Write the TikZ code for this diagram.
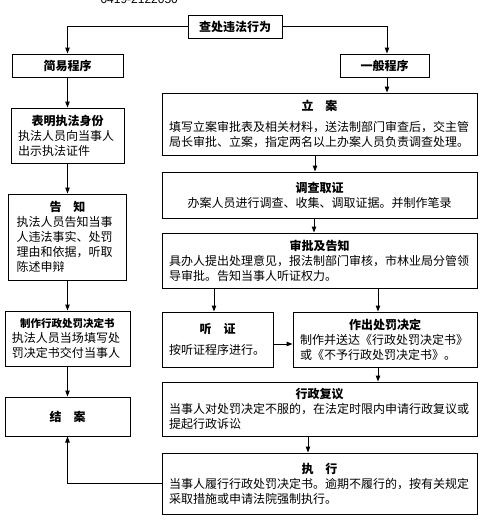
\documentclass[tikz,border=0pt]{standalone}
\usepackage{fontspec}
\setmainfont{Noto Sans CJK SC}
\newfontfamily\latinfont{Liberation Sans}
\usetikzlibrary{arrows.meta}
\newcommand{\boxtitle}[1]{\makebox[\linewidth]{\bfseries #1}}

\begin{document}
\begin{tikzpicture}[x=1pt, y=-1pt, line width=1pt,
        >={Triangle[length=6pt, width=4.5pt]},
        box/.style={draw, inner xsep=7pt, inner ysep=0pt, align=left,
            font=\fontsize{12}{15}\selectfont},
        line/.style={draw, inner sep=0pt, align=center,
            font=\fontsize{12}{15}\selectfont\bfseries}]
    \useasboundingbox (0,0) rectangle (500,530);
    % \draw[help lines, step=50] (0,0) grid (500,530);

    \node[anchor=base west, inner sep=0pt, font=\latinfont\fontsize{12}{14}\selectfont] (phone) at (100, 3) {0419-2122050};

    \node[line, minimum width=94, minimum height=23] (top) at (235, 26.5) {查处违法行为};
    \node[line, minimum width=111, minimum height=23] (simple) at (67.5, 65.5) {简易程序};
    \node[line, minimum width=89, minimum height=23] (general) at (384.5, 65.5) {一般程序};

    % left column
    \node[box, text width=99, minimum height=55] (idbox) at (67.5, 135.5)
        {\boxtitle{表明执法身份}\\ 执法人员向当事人\\ 出示执法证件};
    \node[box, text width=102, inner xsep=8pt, minimum height=86] (notify) at (67.5, 237)
        {\boxtitle{告\quad 知}\\ 执法人员告知当事\\ 人违法事实、处罚\\ 理由和依据，听取\\ 陈述申辩};
    \node[box, text width=111, minimum height=55] (penalty) at (67.5, 338.5)
        {\boxtitle{\fontsize{10.5}{15}\selectfont 制作行政处罚决定书}\\ 执法人员当场填写处\\ 罚决定书交付当事人};
    \node[line, minimum width=125, minimum height=39] (close) at (67.5, 416.5) {结\quad 案};

    % right column
    \node[box, text width=301, minimum height=62] (file) at (319.5, 124)
        {\boxtitle{立\quad 案}\\[6pt] 填写立案审批表及相关材料，送法制部门审查后，交主管\\ 局长审批、立案，指定两名以上办案人员负责调查处理。};
    \node[box, text width=301, minimum height=46, align=center] (probe) at (319.5, 195)
        {\boxtitle{调查取证}\\ 办案人员进行调查、收集、调取证据。并制作笔录};
    \node[box, text width=301, minimum height=55] (approve) at (319.5, 260.5)
        {\boxtitle{审批及告知}\\ 具办人提出处理意见，报法制部门审核，市林业局分管领\\ 导审批。告知当事人听证权力。};
    \node[box, text width=97, minimum height=55] (hear) at (217.5, 339.5)
        {\boxtitle{听\quad 证}\\[6pt] 按听证程序进行。};
    \node[box, text width=170, minimum height=55] (decide) at (385, 339.5)
        {\boxtitle{作出处罚决定}\\ 制作并送达《行政处罚决定书》\\ 或《不予行政处罚决定书》。};
    \node[box, text width=301, minimum height=54] (review) at (319.5, 409)
        {\boxtitle{行政复议}\\ 当事人对处罚决定不服的，在法定时限内申请行政复议或\\ 提起行政诉讼};
    \node[box, text width=301, minimum height=61] (exec) at (319.5, 483.5)
        {\boxtitle{执\quad 行}\\ 当事人履行行政处罚决定书。逾期不履行的，按有关规定\\ 采取措施或申请法院强制执行。};

    \coordinate (generalout) at ([xshift=2.5]general.south);
    \coordinate (hearin) at ([xshift=-3.5]hear.north);
    \coordinate (decidein) at ([xshift=-7]decide.north);
    \coordinate (decideout) at ([xshift=-7]decide.south);

    \draw[->] (top.west) -| (simple.north);
    \draw[->] (top.east) -| ([xshift=2.5]general.north);
    \draw[->] (simple) -- (idbox);
    \draw[->] (idbox) -- (notify);
    \draw[->] (notify) -- (penalty);
    \draw[->] (penalty) -- (close);
    \draw[->] (generalout) -- (generalout |- file.north);
    \draw[->] ([xshift=-4.5]file.south) -- ([xshift=-4.5]probe.north);
    \draw[->] ([xshift=-5.5]probe.south) -- ([xshift=-5.5]approve.north);
    \draw[->] (hearin |- approve.south) -- (hearin);
    \draw[->] (decidein |- approve.south) -- (decidein);
    \draw[->] ([yshift=-4.5pt]hear.east) -- ([yshift=-4.5pt]decide.west);
    \draw[->] (decideout) -- (decideout |- review.north);
    \draw[->] ([xshift=-11.5]review.south) -- ([xshift=-11.5]exec.north);
    \draw[->] (exec.west) -| (close.south);

\end{tikzpicture}
\end{document}
